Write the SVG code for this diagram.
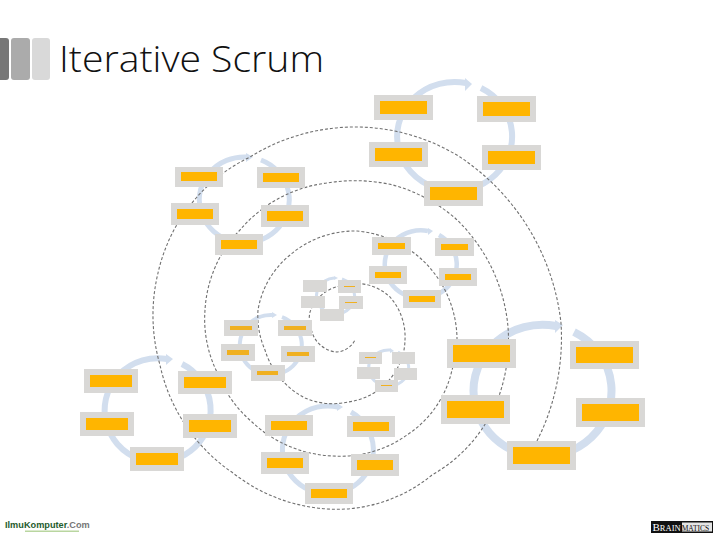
<svg xmlns="http://www.w3.org/2000/svg" width="720" height="540" viewBox="0 0 720 540">
<style>
.b{fill:#d9d8d6}
.o{fill:#ffb500}
.l{fill:#f0b020}
.r{fill:none;stroke:#d2deee}
.a{fill:#d2deee}
.s{fill:none;stroke:#707070;stroke-width:1.1;stroke-dasharray:3 2}
</style>
<rect width="720" height="540" fill="#fff"/>
<g id="header">
<rect x="-4" y="38" width="13" height="42" rx="3" fill="#777"/>
<rect x="11" y="38" width="19" height="42" rx="3" fill="#ababab"/>
<rect x="32" y="38" width="18" height="42" rx="3" fill="#d9d9d9"/>
<text x="59" y="72" font-family="'Open Sans','Liberation Sans',sans-serif" font-weight="300" font-size="37" fill="#111" textLength="265" lengthAdjust="spacingAndGlyphs">Iterative Scrum</text>
</g>
<g id="connectors">
<path class="r" stroke-width="6" d="M481,88 A57.500,54.500 0 1 1 466,83"/><polygon class="a" points="465,78 472,84 465,91"/>
<path class="r" stroke-width="5" d="M261,160 A45,43 0 1 1 247,157"/><polygon class="a" points="246,153 253,157 246,162"/>
<path class="r" stroke-width="4.500" d="M439,235 A36,34 0 1 1 428,231"/><polygon class="a" points="428,228 433,231 428,235"/>
<path class="r" stroke-width="3" d="M342,279 A19,18 0 1 1 334,278"/><polygon class="a" points="334,276 338,278 334,280"/>
<path class="r" stroke-width="4" d="M282,317 A31,30 0 1 1 272,315"/><polygon class="a" points="272,312 277,315 272,318"/>
<path class="r" stroke-width="3" d="M398,352 A20,18 0 1 1 390,350"/><polygon class="a" points="390,348 394,351 390,353"/>
<path class="r" stroke-width="8" d="M574,332 A69,66 0 1 1 556,326"/><polygon class="a" points="555,320 563,325 555,333"/>
<path class="r" stroke-width="6" d="M182,364 A53,52 0 1 1 167,359"/><polygon class="a" points="166,354 173,359 166,365"/>
<path class="r" stroke-width="5" d="M351,412 A45.500,44 0 1 1 338,407"/><polygon class="a" points="337,403 343,407 337,411"/>
<path class="s" d="M537,441 A230,230 0 0 0 561,323 A230,230 0 0 0 460,157 A200,200 0 0 0 360,127 A200,200 0 0 0 250,157 A170,170 0 0 0 158,273 A180,180 0 0 0 160,365 A175,175 0 0 0 233,473 A170,170 0 0 0 317,508 A150,150 0 0 0 432,475 A150,150 0 0 0 500,393 A170,170 0 0 0 508,327 A170,170 0 0 0 455,218 A160,160 0 0 0 393,185 A170,170 0 0 0 327,183 A135,135 0 0 0 240,230 A125,125 0 0 0 205,310 A120,120 0 0 0 216,370 A125,125 0 0 0 252,422 A125,125 0 0 0 333,456 A115,115 0 0 0 407,435 A105,105 0 0 0 452,370 A105,105 0 0 0 457,338 A110,110 0 0 0 410,250 A110,110 0 0 0 357,231 A100,100 0 0 0 290,255 A90,90 0 0 0 258,310 A85,85 0 0 0 265,350 A80,80 0 0 0 305,398 A70,70 0 0 0 348,402 A65,65 0 0 0 398,367 A60,60 0 0 0 405,340 A60,60 0 0 0 390,297 A50,50 0 0 0 340,286 A40,40 0 0 0 310,312 A32,32 0 0 0 312,332 A28,28 0 0 0 337,352 A22,22 0 0 0 355,340"/>
</g>
<g id="cluster-1">
<g id="n1a"><rect class="b" x="374" y="95" width="59" height="25"/><rect class="o" x="380" y="101" width="47" height="13"/></g>
<g id="n1b"><rect class="b" x="477" y="96" width="59" height="26"/><rect class="o" x="483" y="102" width="47" height="14"/></g>
<g id="n1c"><rect class="b" x="369" y="142" width="59" height="25"/><rect class="o" x="375" y="148" width="47" height="13"/></g>
<g id="n1d"><rect class="b" x="482" y="145" width="59" height="25"/><rect class="o" x="488" y="151" width="47" height="13"/></g>
<g id="n1e"><rect class="b" x="424" y="181" width="59" height="25"/><rect class="o" x="430" y="187" width="47" height="13"/></g>
</g>
<g id="cluster-2">
<g id="n2a"><rect class="b" x="175" y="167" width="48" height="20"/><rect class="o" x="181" y="172" width="36" height="9"/></g>
<g id="n2b"><rect class="b" x="257" y="167" width="48" height="21"/><rect class="o" x="263" y="173" width="36" height="9"/></g>
<g id="n2c"><rect class="b" x="171" y="203" width="48" height="22"/><rect class="o" x="177" y="209" width="36" height="10"/></g>
<g id="n2d"><rect class="b" x="261" y="205" width="48" height="22"/><rect class="o" x="267" y="211" width="36" height="10"/></g>
<g id="n2e"><rect class="b" x="215" y="234" width="48" height="21"/><rect class="o" x="221" y="240" width="36" height="9"/></g>
</g>
<g id="cluster-3">
<g id="n3a"><rect class="b" x="372" y="237" width="39" height="18"/><rect class="o" x="378" y="243" width="27" height="6"/></g>
<g id="n3b"><rect class="b" x="435" y="238" width="39" height="18"/><rect class="o" x="441" y="244" width="27" height="6"/></g>
<g id="n3c"><rect class="b" x="369" y="266" width="38" height="18"/><rect class="o" x="375" y="272" width="26" height="6"/></g>
<g id="n3d"><rect class="b" x="439" y="268" width="38" height="18"/><rect class="o" x="445" y="274" width="26" height="6"/></g>
<g id="n3e"><rect class="b" x="403" y="290" width="38" height="18"/><rect class="o" x="409" y="296" width="26" height="6"/></g>
</g>
<g id="cluster-4">
<g id="n4a"><rect class="b" x="303" y="280" width="24" height="12"/></g>
<g id="n4b"><rect class="b" x="338" y="280" width="23" height="13"/><rect class="l" x="344" y="286" width="11" height="1"/></g>
<g id="n4c"><rect class="b" x="301" y="296" width="24" height="12"/></g>
<g id="n4d"><rect class="b" x="339" y="296" width="24" height="13"/><rect class="l" x="345" y="302" width="12" height="1"/></g>
<g id="n4e"><rect class="b" x="320" y="309" width="24" height="12"/></g>
</g>
<g id="cluster-5">
<g id="n5a"><rect class="b" x="224" y="320" width="34" height="16"/><rect class="l" x="230" y="326" width="22" height="4"/></g>
<g id="n5b"><rect class="b" x="278" y="320" width="34" height="16"/><rect class="l" x="284" y="326" width="22" height="4"/></g>
<g id="n5c"><rect class="b" x="221" y="344" width="34" height="17"/><rect class="l" x="227" y="350" width="22" height="5"/></g>
<g id="n5d"><rect class="b" x="281" y="346" width="34" height="16"/><rect class="l" x="287" y="352" width="22" height="4"/></g>
<g id="n5e"><rect class="b" x="251" y="365" width="34" height="16"/><rect class="l" x="257" y="371" width="21" height="4"/></g>
</g>
<g id="cluster-6">
<g id="n6a"><rect class="b" x="359" y="352" width="23" height="12"/><rect class="l" x="365" y="357" width="11" height="1"/></g>
<g id="n6b"><rect class="b" x="392" y="352" width="23" height="12"/></g>
<g id="n6c"><rect class="b" x="357" y="367" width="23" height="12"/></g>
<g id="n6d"><rect class="b" x="394" y="368" width="23" height="12"/></g>
<g id="n6e"><rect class="b" x="375" y="380" width="23" height="12"/><rect class="l" x="381" y="385" width="11" height="1"/></g>
</g>
<g id="cluster-7">
<g id="n7a"><rect class="b" x="447" y="339" width="69" height="29"/><rect class="o" x="453" y="345" width="57" height="17"/></g>
<g id="n7b"><rect class="b" x="570" y="341" width="69" height="28"/><rect class="o" x="576" y="347" width="57" height="16"/></g>
<g id="n7c"><rect class="b" x="441" y="395" width="69" height="29"/><rect class="o" x="447" y="401" width="57" height="17"/></g>
<g id="n7d"><rect class="b" x="576" y="398" width="69" height="29"/><rect class="o" x="582" y="404" width="57" height="17"/></g>
<g id="n7e"><rect class="b" x="507" y="441" width="69" height="29"/><rect class="o" x="513" y="447" width="57" height="17"/></g>
</g>
<g id="cluster-8">
<g id="n8a"><rect class="b" x="84" y="369" width="54" height="24"/><rect class="o" x="90" y="375" width="42" height="12"/></g>
<g id="n8b"><rect class="b" x="178" y="371" width="54" height="23"/><rect class="o" x="184" y="377" width="42" height="11"/></g>
<g id="n8c"><rect class="b" x="80" y="412" width="54" height="24"/><rect class="o" x="86" y="418" width="42" height="12"/></g>
<g id="n8d"><rect class="b" x="183" y="414" width="54" height="24"/><rect class="o" x="189" y="420" width="42" height="12"/></g>
<g id="n8e"><rect class="b" x="130" y="447" width="54" height="24"/><rect class="o" x="136" y="453" width="42" height="12"/></g>
</g>
<g id="cluster-9">
<g id="n9a"><rect class="b" x="265" y="415" width="48" height="21"/><rect class="o" x="271" y="421" width="36" height="9"/></g>
<g id="n9b"><rect class="b" x="347" y="416" width="48" height="21"/><rect class="o" x="353" y="422" width="36" height="9"/></g>
<g id="n9c"><rect class="b" x="261" y="452" width="48" height="22"/><rect class="o" x="267" y="458" width="36" height="10"/></g>
<g id="n9d"><rect class="b" x="351" y="454" width="48" height="22"/><rect class="o" x="357" y="460" width="36" height="10"/></g>
<g id="n9e"><rect class="b" x="305" y="483" width="48" height="21"/><rect class="o" x="311" y="489" width="36" height="9"/></g>
</g>
<g id="logo-left">
<text x="5" y="528" font-family="'Liberation Sans',sans-serif" font-weight="700" font-size="9.200" fill="#1f5c2e">IlmuKomputer<tspan fill="#777">.Com</tspan></text>
<rect x="25" y="530.500" width="54" height="1.500" fill="#b9d6a0"/>
</g>
<g id="logo-right">
<rect x="651" y="521" width="62" height="12" fill="#111"/>
<rect x="682" y="522.500" width="30" height="9" fill="#e4e4e4"/>
<text x="652.500" y="531" font-family="'Liberation Serif',serif" fill="#fff" font-size="8.500"><tspan font-size="11">B</tspan>RAIN<tspan fill="#111" font-size="7.500" dx="1">MATICS</tspan></text>
</g>
</svg>
